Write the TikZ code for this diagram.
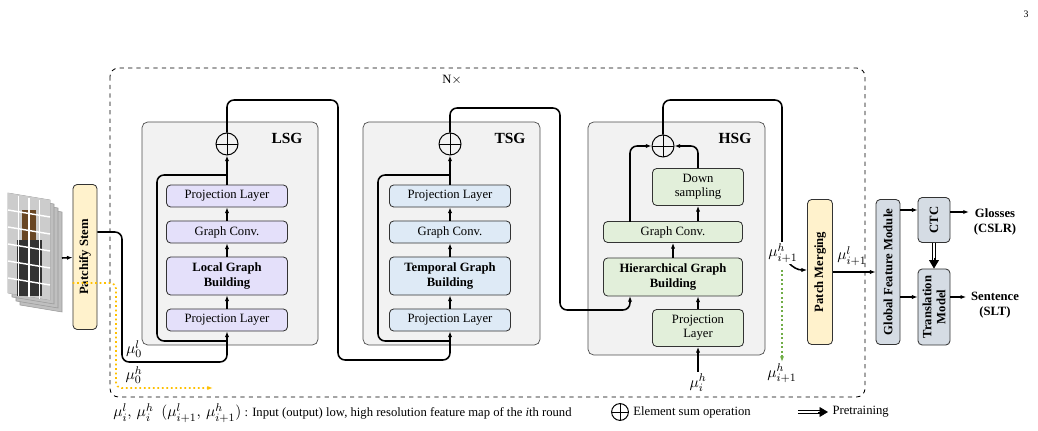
\documentclass[tikz,border=0pt]{standalone}
\usepackage{fontspec}
\setmainfont{Liberation Serif}
\usepackage{amsmath}
\usetikzlibrary{arrows.meta,positioning}
\definecolor{lsgc}{HTML}{E4E0FA}
\definecolor{tsgc}{HTML}{DEEAF6}
\definecolor{hsgc}{HTML}{E2EFDA}
\definecolor{stemc}{HTML}{FFF2CC}
\definecolor{gfmc}{HTML}{D5DCE4}
\definecolor{pnlc}{HTML}{F2F2F2}
\tikzset{
  panel/.style={draw=black!70,fill=pnlc,rounded corners=4pt,line width=0.5pt},
  blk/.style={draw=black!80,rounded corners=3pt,line width=0.6pt,align=center,inner sep=1pt,font=\fontsize{9}{10}\selectfont},
  bblk/.style={blk,font=\bfseries\fontsize{9}{10.5}\selectfont},
  vblk/.style={blk,rotate=90,font=\bfseries\fontsize{9}{10}\selectfont},
  sumop/.style={draw,circle,minimum size=0.55cm,inner sep=0pt,line width=0.7pt,path picture={\draw[line width=0.7pt] (path picture bounding box.north)--(path picture bounding box.south) (path picture bounding box.west)--(path picture bounding box.east);}},
  flow/.style={line width=1.1pt,-{Latex[length=4pt]},rounded corners=5pt},
  pre/.style={double,line width=0.6pt,double distance=1.6pt,shorten >=4pt},
  pretip/.style={-{Triangle[length=6pt,width=7pt]},line width=0.6pt},
  lbl/.style={font=\fontsize{11}{12}\selectfont,inner sep=1pt}
}
\begin{document}
\begin{tikzpicture}[x=0.025cm,y=-0.025cm]
\useasboundingbox (0,0) rectangle (1038,431);
\node[font=\fontsize{7}{8}\selectfont] at (1026,14) {3};

% outer frame
\draw[dashed,rounded corners=6pt,line width=0.6pt] (110,68) rectangle (865,397);
\node[font=\fontsize{9}{10}\selectfont] at (452,80) {N$\times$};

% input frames
\foreach \d in {12,8,4,0}{
  \fill[black!25,draw=black!40] (8+\d,193+\d) -- (50+\d,200+\d) -- (50+\d,300+\d) -- (8+\d,293+\d) -- cycle;
}
\fill[black!20] (8,193) -- (50,200) -- (50,300) -- (8,293) -- cycle;
\fill[brown!55!black] (22,210) rectangle (36,296);
\fill[black!80] (17,240) rectangle (42,296);
\foreach \i in {1,...,5}{\draw[white,line width=1pt] (8,193+\i*17) -- (50,200+\i*17);}
\foreach \i in {1,2,3}{\draw[white,line width=1pt] (8+\i*10.5,194.5+\i*1.7) -- (8+\i*10.5,294+\i*1.7);}
\coordinate (img) at (62,258);

% stem
\node[vblk,fill=stemc,minimum width=3.625cm,minimum height=0.6cm] (stem) at (85,257) {Patchify Stem};

% panels
\draw[panel] (142,122) rectangle (318,345);
\node[font=\bfseries\fontsize{11}{12}\selectfont] at (287,138) {LSG};
\draw[panel] (363,122) rectangle (540,345);
\node[font=\bfseries\fontsize{11}{12}\selectfont] at (510,138) {TSG};
\draw[panel] (588,122) rectangle (765,355);
\node[font=\bfseries\fontsize{11}{12}\selectfont] at (735,138) {HSG};

% LSG
\node[blk,fill=lsgc,minimum width=3.025cm,minimum height=0.55cm] (lp1) at (227,320) {Projection Layer};
\node[bblk,fill=lsgc,minimum width=3.025cm,minimum height=0.95cm] (lgb) at (227,276) {Local Graph\\Building};
\node[blk,fill=lsgc,minimum width=3.025cm,minimum height=0.55cm] (lgc) at (227,232) {Graph Conv.};
\node[blk,fill=lsgc,minimum width=3.025cm,minimum height=0.55cm] (lp2) at (227,196) {Projection Layer};
\node[sumop] (lsum) at (227,144) {};
\draw[flow] (lp1) -- (lgb);
\draw[flow] (lgb) -- (lgc);
\draw[flow] (lgc) -- (lp2);
\draw[flow] (lp2) -- (lsum);
\draw[line width=1.1pt,rounded corners=5pt] (227,341) -| (157,175) -- (227,175);

% TSG
\node[blk,fill=tsgc,minimum width=3.025cm,minimum height=0.55cm] (tp1) at (450,320) {Projection Layer};
\node[bblk,fill=tsgc,minimum width=3.025cm,minimum height=0.95cm] (tgb) at (450,276) {Temporal Graph\\Building};
\node[blk,fill=tsgc,minimum width=3.025cm,minimum height=0.55cm] (tgc) at (450,232) {Graph Conv.};
\node[blk,fill=tsgc,minimum width=3.025cm,minimum height=0.55cm] (tp2) at (450,196) {Projection Layer};
\node[sumop] (tsum) at (450,144) {};
\draw[flow] (tp1) -- (tgb);
\draw[flow] (tgb) -- (tgc);
\draw[flow] (tgc) -- (tp2);
\draw[flow] (tp2) -- (tsum);
\draw[line width=1.1pt,rounded corners=5pt] (450,341) -| (378,175) -- (450,175);

% HSG
\node[blk,fill=hsgc,minimum width=2.275cm,minimum height=0.925cm] (hp) at (698,328) {Projection\\Layer};
\node[bblk,fill=hsgc,minimum width=3.475cm,minimum height=0.95cm] (hgb) at (673,277) {Hierarchical Graph\\Building};
\node[blk,fill=hsgc,minimum width=3.475cm,minimum height=0.525cm] (hgc) at (673,232) {Graph Conv.};
\node[blk,fill=hsgc,minimum width=2.275cm,minimum height=0.925cm] (hds) at (698,187) {Down\\sampling};
\node[sumop] (hsum) at (663,146) {};
\draw[flow] (hp.north) -- (hp.north |- hgb.south);
\draw[flow] (hgb) -- (hgc);
\draw[flow] (hds.south |- hgc.north) -- (hds.south);
\draw[flow] (630,222) |- (hsum.west);
\draw[flow] (hds.north) |- (hsum.east);
\coordinate (hin) at (698,372);
\draw[flow] (hin) -- (hp.south);
\node[lbl,below] at (hin) {$\mu_i^h$};

% stage links
\draw[flow] (stem.south |- 0,232) -- (122,232) -- (122,362) -| (lp1.south);
\node[lbl] at (134,349) {$\mu_0^l$};
\draw[line width=1.2pt,dotted,draw={rgb,255:red,255;green,192;blue,0},-{Latex[length=4pt]},rounded corners=4pt] (stem.north |- 0,283) -- (116,283) -- (116,388) -- (213,388);
\node[lbl] at (134,375) {$\mu_0^h$};
\draw[flow] (lsum.north) |- (338,100) -- (338,360) -| (tp1.south);
\draw[flow] (tsum.north) |- (560,108) -- (560,310) -| (630,296);
\draw[flow] (img) -- (stem);

% outputs
\node[vblk,fill=stemc,minimum width=3.625cm,minimum height=0.625cm] (pm) at (820,272) {Patch Merging};
\draw[line width=1.1pt,rounded corners=5pt] (hsum.north) |- (782,100) -- (782,245);
\draw[flow] (782,245) to[out=-90,in=180] (pm.north |- 0,270);
\node[lbl,fill=white] at (783,253) {$\mu_{i+1}^h$};
\coordinate (hout) at (782,362);
\draw[line width=1.2pt,dotted,draw={rgb,255:red,112;green,173;blue,71},-{Latex[length=4pt]}] (782,270) -- (hout);
\node[lbl,below] at (hout) {$\mu_{i+1}^h$};
\node[vblk,fill=gfmc,minimum width=3.625cm,minimum height=0.6cm] (gfm) at (888,272) {Global Feature Module};
\draw[flow] (pm.south |- 0,272) -- (gfm.north |- 0,272);
\node[lbl] at (852,256) {$\mu_{i+1}^l$};
\node[vblk,fill=gfmc,minimum width=1.125cm,minimum height=0.8cm] (ctc) at (934,220) {CTC};
\node[vblk,fill=gfmc,minimum width=1.9cm,minimum height=0.8cm,align=center] (tm) at (934,307) {Translation\\Model};
\draw[flow] (gfm.south |- 0,210) -- (ctc.north |- 0,210);
\draw[flow] (gfm.south |- 0,297) -- (tm.north |- 0,297);
\draw[pre] (ctc) -- (tm);
\draw[pretip] (934,258) -- (tm.east);
\node[font=\bfseries\fontsize{9}{10.5}\selectfont,align=center] (gl) at (995,222) {Glosses\\(CSLR)};
\draw[flow] (ctc.south |- 0,212) -- (gl.west |- 0,212);
\node[font=\bfseries\fontsize{9}{10.5}\selectfont,align=center] (st) at (995,305) {Sentence\\(SLT)};
\draw[flow] (tm.south |- 0,297) -- (st.west |- 0,297);

% legend
\node[anchor=west,font=\fontsize{9}{10}\selectfont,inner sep=0pt] at (113,413) {{\fontsize{11}{12}\selectfont$\mu_i^l,\,\mu_i^h\ \ (\mu_{i+1}^l,\,\mu_{i+1}^h)$} : Input (output) low, high resolution feature map of the \textit{i}th round};
\node[sumop,minimum size=0.42cm] (lsumk) at (620,412) {};
\node[anchor=west,font=\fontsize{9}{10}\selectfont,inner sep=0pt,right=3pt of lsumk] {Element sum operation};
\coordinate (pa) at (798,412);
\coordinate (pb) at (828,412);
\draw[pre] (pa) -- (pb);
\draw[pretip] (818,412) -- (pb);
\node[anchor=west,font=\fontsize{9}{10}\selectfont,inner sep=0pt,right=3pt of pb] {Pretraining};
\end{tikzpicture}
\end{document}
